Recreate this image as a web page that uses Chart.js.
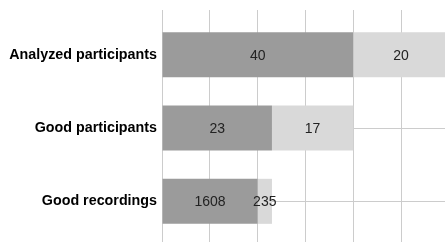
<!DOCTYPE html>
<html>
<head>
<meta charset="utf-8">
<style>
  html, body { margin: 0; padding: 0; background: #fff; }
  #wrap { width: 445px; height: 242px; }
</style>
<script src="https://cdn.jsdelivr.net/npm/chart.js@4.4.1/dist/chart.umd.min.js"></script>
</head>
<body>
<div id="wrap"><canvas id="barChart"></canvas></div>
<script>
const categories = ["Analyzed participants", "Good participants", "Good recordings"];
// bar lengths as drawn, and the numbers printed on them
const firstValues = [40, 23, 20];
const secondValues = [20, 17, 3];
const firstLabels = ["40", "23", "1608"];
const secondLabels = ["20", "17", "235"];
const xTicks = [0, 10, 20, 30, 40, 50];
const xMax = 59.2; // the right edge of the picture cuts the axis here

const gridColor = "#cccccc";
const font = "Liberation Sans, Arial, sans-serif";

// write the numbers in the middle of each segment
const segmentLabels = {
  id: "segmentLabels",
  afterDatasetsDraw(chart) {
    const ctx = chart.ctx;
    const texts = [firstLabels, secondLabels];
    ctx.save();
    ctx.font = "14px " + font;
    ctx.fillStyle = "#222222";
    ctx.textAlign = "center";
    ctx.textBaseline = "middle";
    chart.data.datasets.forEach((ds, i) => {
      chart.getDatasetMeta(i).data.forEach((bar, j) => {
        ctx.fillText(texts[i][j], (bar.x + bar.base) / 2, bar.y + 1);
      });
    });
    ctx.restore();
  }
};

const ctx = document.getElementById("barChart").getContext("2d");
new Chart(ctx, {
  type: "bar",
  data: {
    labels: categories,
    datasets: [
      {
        data: firstValues,
        backgroundColor: "#9b9b9b",
        borderWidth: 0,
        barPercentage: 0.614,
        categoryPercentage: 1,
      },
      {
        data: secondValues,
        backgroundColor: "#d9d9d9",
        borderWidth: 0,
        barPercentage: 0.614,
        categoryPercentage: 1,
      },
    ],
  },
  options: {
    indexAxis: "y",
    responsive: true,
    maintainAspectRatio: false,
    animation: false,
    layout: { padding: { top: 10, right: 0, bottom: 0, left: 0 } },
    plugins: {
      legend: { display: false },
      tooltip: { enabled: false },
    },
    scales: {
      x: {
        type: "linear",
        position: "top",
        stacked: true,
        min: xTicks[0],
        max: xMax,
        afterBuildTicks: (scale) => { scale.ticks = xTicks.map((v) => ({ value: v })); },
        afterFit: (scale) => { scale.height = 8; },
        ticks: { display: false },
        grid: { color: gridColor, tickLength: 8, tickColor: gridColor },
        border: { display: false },
      },
      x2: {
        type: "linear",
        axis: "x",
        position: "bottom",
        min: xTicks[0],
        max: xMax,
        afterBuildTicks: (scale) => { scale.ticks = xTicks.map((v) => ({ value: v })); },
        afterFit: (scale) => { scale.height = 4; },
        ticks: { display: false },
        grid: { drawOnChartArea: false, tickLength: 4, tickColor: gridColor },
        border: { display: false },
      },
      y: {
        stacked: true,
        afterFit: (scale) => {
          scale.width = 162;
          scale.paddingTop = 0;
          scale.paddingBottom = 0;
        },
        ticks: {
          color: "#000000",
          padding: 5,
          font: { family: font, size: 14.3, weight: "bold" },
        },
        grid: { color: gridColor, offset: false, drawTicks: false },
        border: { color: gridColor },
      },
    },
  },
  plugins: [segmentLabels],
});
</script>
</body>
</html>
